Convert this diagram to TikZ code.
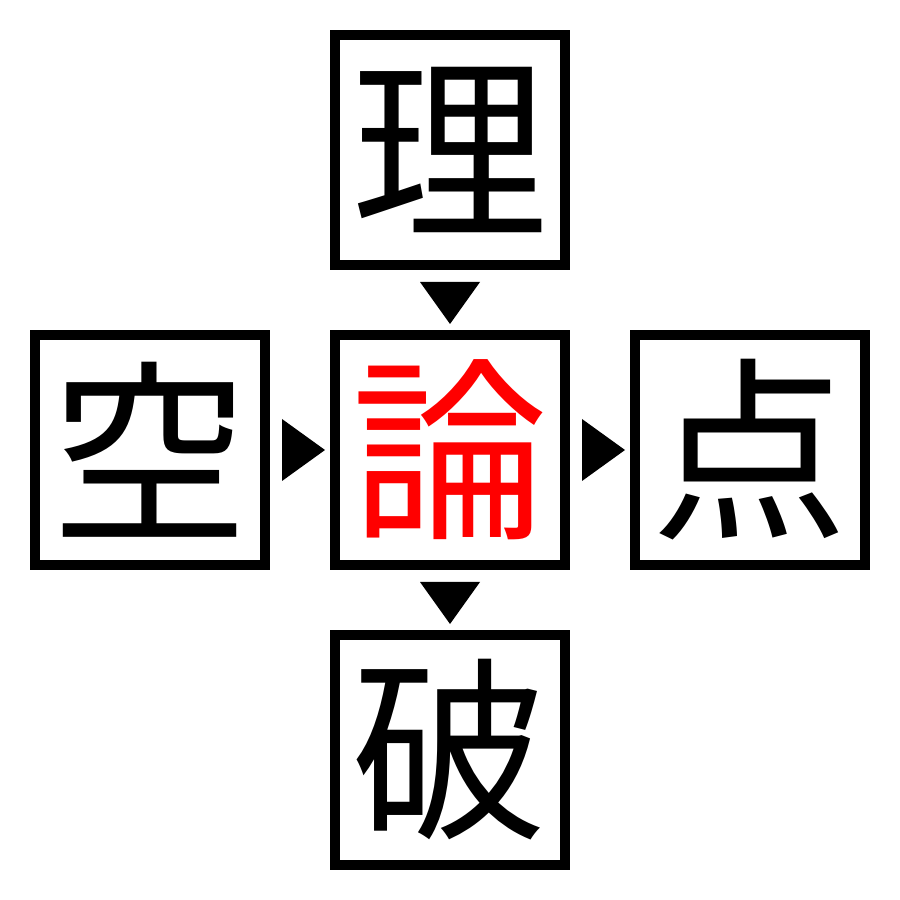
\documentclass[tikz,border=0pt]{standalone}
\usepackage{fontspec}
\newfontfamily\jpfont{Noto Sans CJK JP}
\usetikzlibrary{positioning,calc}

\begin{document}
\begin{tikzpicture}[
  kanji/.style={draw, line width=0.1cm, minimum size=2.3cm, inner sep=0pt,
    font=\jpfont\fontsize{56}{56}\selectfont},
  hint/.style={fill=black}
]
\useasboundingbox (0,0) rectangle (9,9);
\node[kanji] (mid) at (4.5,4.5) {\textcolor{red}{論}};
\node[kanji, above=0.6cm of mid] (top) {理};
\node[kanji, left=0.6cm of mid] (left) {空};
\node[kanji, right=0.6cm of mid] (right) {点};
\node[kanji, below=0.6cm of mid] (bottom) {破};
% arrows between the boxes
\fill[hint] ($(top.south)!0.5!(mid.north)$) ++(-0.3,0.18) -- ++(0.6,0) -- ++(-0.3,-0.42) -- cycle;
\fill[hint] ($(mid.south)!0.5!(bottom.north)$) ++(-0.3,0.18) -- ++(0.6,0) -- ++(-0.3,-0.42) -- cycle;
\fill[hint] ($(left.east)!0.5!(mid.west)$) ++(-0.18,0.31) -- ++(0,-0.62) -- ++(0.43,0.31) -- cycle;
\fill[hint] ($(mid.east)!0.5!(right.west)$) ++(-0.18,0.31) -- ++(0,-0.62) -- ++(0.43,0.31) -- cycle;
\end{tikzpicture}
\end{document}
